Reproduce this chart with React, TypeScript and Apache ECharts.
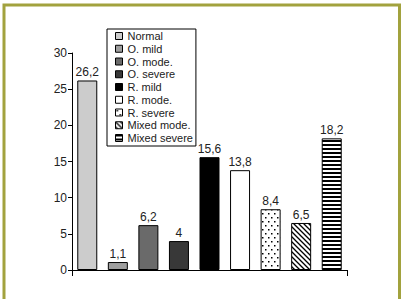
import React, { useEffect, useRef } from "react";
import * as echarts from "echarts";

const categories = [
  "Normal",
  "O. mild",
  "O. mode.",
  "O. severe",
  "R. mild",
  "R. mode.",
  "R. severe",
  "Mixed mode.",
  "Mixed severe",
];
const values = [26.2, 1.1, 6.2, 4, 15.6, 13.8, 8.4, 6.5, 18.2];
const yTicks = [0, 5, 10, 15, 20, 25, 30];

const FONT = '"Liberation Sans", Arial, sans-serif';

function makeTile(w: number, h: number, draw: (ctx: CanvasRenderingContext2D) => void) {
  const c = document.createElement("canvas");
  c.width = w;
  c.height = h;
  const ctx = c.getContext("2d")!;
  ctx.fillStyle = "#fff";
  ctx.fillRect(0, 0, w, h);
  ctx.fillStyle = "#000";
  ctx.strokeStyle = "#000";
  draw(ctx);
  return { image: c, repeat: "repeat", imageWidth: w, imageHeight: h } as any;
}

export default function App() {
  const ref = useRef<HTMLDivElement>(null);
  useEffect(() => {
    if (!ref.current) return;
    const chart = echarts.init(ref.current, null, { renderer: "svg" });

    const dots = makeTile(6, 8, (ctx) => {
      ctx.fillRect(1, 1, 1.5, 1.5);
      ctx.fillRect(4, 5, 1.5, 1.5);
    });
    const diag = makeTile(5, 5, (ctx) => {
      ctx.lineWidth = 1.3;
      ctx.beginPath();
      ctx.moveTo(-1, -1);
      ctx.lineTo(6, 6);
      ctx.moveTo(-1, 4);
      ctx.lineTo(1, 6);
      ctx.moveTo(4, -1);
      ctx.lineTo(6, 1);
      ctx.stroke();
    });
    const stripes = makeTile(4, 4, (ctx) => {
      ctx.fillRect(0, 0, 4, 2);
    });

    const fills: any[] = [
      "#cccccc",
      "#9e9e9e",
      "#6a6a6a",
      "#383838",
      "#000000",
      "#ffffff",
      dots,
      diag,
      stripes,
    ];

    const series = categories.map((name, i) => ({
      name,
      type: "bar",
      stack: "all",
      barWidth: 20,
      data: values.map((v, j) => (j === i ? v : "-")),
      itemStyle: { color: fills[i], borderColor: "#000", borderWidth: 1 },
      label: {
        show: true,
        position: "top",
        distance: 2,
        fontFamily: FONT,
        fontSize: 12,
        color: "#222",
        formatter: (p: any) => String(p.value).replace(".", ","),
      },
    }));

    chart.setOption({
      animation: false,
      backgroundColor: "#fff",
      graphic: [
        {
          type: "rect",
          shape: { x: 4, y: 5, width: 395.5, height: 400 },
          style: { fill: "none", stroke: "#a2a23e", lineWidth: 3 },
          silent: true,
          z: 100,
        },
      ],
      grid: { left: 72, right: 56, top: 53, bottom: 29 },
      legend: {
        orient: "vertical",
        left: 107,
        top: 29,
        data: categories,
        icon: "rect",
        itemWidth: 7,
        itemHeight: 7,
        itemGap: 0.75,
        backgroundColor: "#fff",
        borderColor: "#000",
        borderWidth: 1,
        padding: [1, 3, 2, 8],
        itemStyle: { borderColor: "#000", borderWidth: 1 },
        textStyle: { fontFamily: FONT, fontSize: 11, lineHeight: 12, color: "#222" },
      },
      xAxis: {
        type: "category",
        data: categories,
        axisLine: { lineStyle: { color: "#000", width: 1 } },
        axisTick: { show: true, interval: (idx: number) => idx === 0, length: 6, lineStyle: { color: "#000" } },
        axisLabel: { show: false },
      },
      yAxis: {
        type: "value",
        min: yTicks[0],
        max: yTicks[yTicks.length - 1],
        interval: 5,
        axisLine: { show: true, lineStyle: { color: "#000", width: 1 } },
        axisTick: { show: true, length: 4, lineStyle: { color: "#000" } },
        splitLine: { show: false },
        axisLabel: { fontFamily: FONT, fontSize: 12, color: "#222", margin: 5 },
      },
      series,
    });
    return () => chart.dispose();
  }, []);
  return (
    <div
      ref={ref}
      style={{ position: "fixed", left: 0, top: 0, width: 403, height: 299 }}
    />
  );
}
